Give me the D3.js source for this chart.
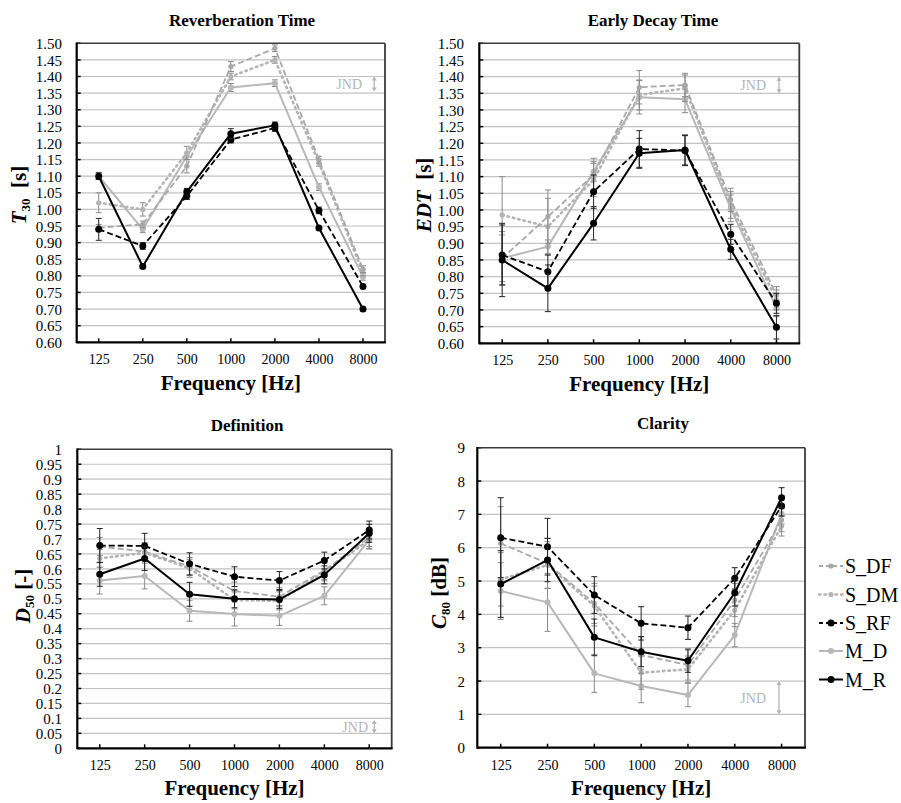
<!DOCTYPE html>
<html><head><meta charset="utf-8">
<script src="https://cdn.jsdelivr.net/npm/d3@7/dist/d3.min.js"></script>
<style>body{margin:0;background:#fff}svg{display:block}svg text{font-family:'Liberation Serif','Tinos','DejaVu Serif','Noto Serif',serif !important}</style>
</head><body><svg id="c" width="901" height="803"></svg>
<script>
// ---------- DATA ----------
const FREQ = ["125","250","500","1000","2000","4000","8000"];
const SERIES = ["S_DF","S_DM","S_RF","M_D","M_R"];

const T30_TICKS = ["0.60","0.65","0.70","0.75","0.80","0.85","0.90","0.95","1.00","1.05","1.10","1.15","1.20","1.25","1.30","1.35","1.40","1.45","1.50"];
const T30_S_DF = [0.945,0.955,1.13,1.43,1.485,1.15,0.82];
const T30_S_DM = [1.02,1.00,1.17,1.40,1.45,1.14,0.81];
const T30_S_RF = [0.94,0.89,1.04,1.21,1.245,0.997,0.768];
const T30_M_D  = [1.10,0.94,1.16,1.367,1.38,1.067,0.797];
const T30_M_R  = [1.10,0.828,1.053,1.228,1.253,0.944,0.70];
const T30_S_DF_ERR = [0.01,0.01,0.02,0.015,0.01,0.01,0.01];
const T30_S_DM_ERR = [0.03,0.02,0.02,0.01,0.01,0.01,0.01];
const T30_S_RF_ERR = [0.033,0.01,0.01,0.01,0.01,0.01,0.005];
const T30_M_D_ERR  = [0.01,0.01,0.01,0.012,0.01,0.01,0.01];
const T30_M_R_ERR  = [0.01,0.006,0.01,0.015,0.01,0.005,0.005];

const EDT_TICKS = T30_TICKS;
const EDT_S_DF = [0.855,0.98,1.105,1.368,1.375,1.03,0.745];
const EDT_S_DM = [0.985,0.95,1.09,1.345,1.365,1.015,0.73];
const EDT_S_RF = [0.865,0.815,1.055,1.183,1.178,0.927,0.72];
const EDT_M_D  = [0.855,0.89,1.115,1.338,1.332,1.005,0.705];
const EDT_M_R  = [0.85,0.765,0.96,1.17,1.18,0.882,0.648];
const EDT_S_DF_ERR = [0.08,0.08,0.05,0.05,0.035,0.035,0.025];
const EDT_S_DM_ERR = [0.115,0.085,0.05,0.045,0.04,0.04,0.03];
const EDT_S_RF_ERR = [0.09,0.05,0.05,0.055,0.045,0.03,0.03];
const EDT_M_D_ERR  = [0.07,0.02,0.03,0.05,0.04,0.04,0.025];
const EDT_M_R_ERR  = [0.11,0.07,0.05,0.045,0.045,0.03,0.035];

const D50_TICKS = ["0","0.05","0.1","0.15","0.2","0.25","0.3","0.35","0.4","0.45","0.5","0.55","0.6","0.65","0.7","0.75","0.8","0.85","0.9","0.95","1"];
const D50_S_DF = [0.675,0.658,0.608,0.526,0.507,0.595,0.705];
const D50_S_DM = [0.635,0.654,0.602,0.496,0.493,0.59,0.697];
const D50_S_RF = [0.678,0.677,0.617,0.574,0.561,0.628,0.73];
const D50_M_D  = [0.561,0.576,0.46,0.449,0.443,0.51,0.697];
const D50_M_R  = [0.582,0.635,0.515,0.50,0.498,0.58,0.719];
const D50_S_DF_ERR = [0.03,0.03,0.03,0.03,0.03,0.03,0.03];
const D50_S_DM_ERR = [0.03,0.03,0.03,0.03,0.03,0.03,0.03];
const D50_S_RF_ERR = [0.057,0.042,0.037,0.033,0.03,0.028,0.03];
const D50_M_D_ERR  = [0.045,0.043,0.035,0.04,0.032,0.03,0.03];
const D50_M_R_ERR  = [0.04,0.04,0.04,0.03,0.03,0.03,0.03];

const C80_TICKS = ["0","1","2","3","4","5","6","7","8","9"];
const C80_S_DF = [6.13,5.53,4.33,2.78,2.48,4.43,6.83];
const C80_S_DM = [5.05,5.48,4.25,2.25,2.35,4.13,6.65];
const C80_S_RF = [6.30,6.03,4.58,3.73,3.60,5.08,7.25];
const C80_M_D  = [4.70,4.36,2.23,1.85,1.58,3.38,7.01];
const C80_M_R  = [4.91,5.63,3.31,2.88,2.61,4.65,7.50];
const C80_S_DF_ERR = [1.1,0.75,0.6,0.55,0.45,0.5,0.35];
const C80_S_DM_ERR = [0.8,0.7,0.6,0.5,0.4,0.5,0.3];
const C80_S_RF_ERR = [1.2,0.85,0.55,0.5,0.35,0.32,0.3];
const C80_M_D_ERR  = [0.85,0.87,0.57,0.5,0.35,0.35,0.3];
const C80_M_R_ERR  = [1.0,0.65,0.55,0.45,0.35,0.4,0.3];

const JND_T30 = [1.355,1.40];
const JND_EDT = [1.35,1.40];
const JND_D50 = [0.05,0.095];
const JND_C80 = [1,2];

// ---------- STYLES ----------
const FONT = "'Liberation Serif','Tinos','DejaVu Serif','Noto Serif',serif";
const STYLE = {
  S_DF:{c:"#a8a8a8",dash:"6,3",w:1.8,r:2.6,cap:"butt",eb:"#8a8a8a"},
  S_DM:{c:"#b4b4b4",dash:"1.5,4",w:2.6,r:2.6,cap:"round",eb:"#8a8a8a"},
  S_RF:{c:"#000",dash:"6,3",w:1.8,r:3.5,cap:"butt",eb:"#222"},
  M_D:{c:"#b8b8b8",dash:null,w:2,r:3,cap:"butt",eb:"#8a8a8a"},
  M_R:{c:"#000",dash:null,w:2,r:3.5,cap:"butt",eb:"#222"}
};
const DRAW_ORDER = ["M_D","S_DM","S_DF","S_RF","M_R"];

const PANELS = [
  {L:76.7,R:385,T:43.3,B:342.3,ticks:T30_TICKS,title:"Reverberation Time",tx:242,ty:26,
   ylab:[["T","i"],["30","s"],["  [s]",""]],ylx:26,yly:195,tickR:62,xlab:390,
   data:{S_DF:[T30_S_DF,T30_S_DF_ERR],S_DM:[T30_S_DM,T30_S_DM_ERR],S_RF:[T30_S_RF,T30_S_RF_ERR],M_D:[T30_M_D,T30_M_D_ERR],M_R:[T30_M_R,T30_M_R_ERR]},
   jnd:JND_T30,jx:374.3,jtx:362},
  {L:479.3,R:799.3,T:43.3,B:343.3,ticks:EDT_TICKS,title:"Early Decay Time",tx:653,ty:26,
   ylab:[["EDT","i"],["  [s]",""]],ylx:431,yly:195,tickR:464,xlab:391,
   data:{S_DF:[EDT_S_DF,EDT_S_DF_ERR],S_DM:[EDT_S_DM,EDT_S_DM_ERR],S_RF:[EDT_S_RF,EDT_S_RF_ERR],M_D:[EDT_M_D,EDT_M_D_ERR],M_R:[EDT_M_R,EDT_M_R_ERR]},
   jnd:JND_EDT,jx:779,jtx:766},
  {L:77.3,R:391.7,T:449.3,B:748.3,ticks:D50_TICKS,title:"Definition",tx:247,ty:431,
   ylab:[["D","i"],["50","s"],[" [-]",""]],ylx:30,yly:596,tickR:62,xlab:795,
   data:{S_DF:[D50_S_DF,D50_S_DF_ERR],S_DM:[D50_S_DM,D50_S_DM_ERR],S_RF:[D50_S_RF,D50_S_RF_ERR],M_D:[D50_M_D,D50_M_D_ERR],M_R:[D50_M_R,D50_M_R_ERR]},
   jnd:JND_D50,jx:374.3,jtx:368},
  {L:477.3,R:805,T:447.7,B:747.7,ticks:C80_TICKS,title:"Clarity",tx:663,ty:429,
   ylab:[["C","i"],["80","s"],[" [dB]",""]],ylx:446,yly:593,tickR:465,xlab:795,
   data:{S_DF:[C80_S_DF,C80_S_DF_ERR],S_DM:[C80_S_DM,C80_S_DM_ERR],S_RF:[C80_S_RF,C80_S_RF_ERR],M_D:[C80_M_D,C80_M_D_ERR],M_R:[C80_M_R,C80_M_R_ERR]},
   jnd:JND_C80,jx:779,jtx:766}
];

const svg = d3.select("#c").attr("font-family",FONT).style("font-family",FONT);

PANELS.forEach(p=>{
  const tv = p.ticks.map(Number);
  const x = d3.scalePoint().domain(FREQ).range([p.L,p.R]).padding(0.5);
  const y = d3.scaleLinear().domain([d3.min(tv),d3.max(tv)]).range([p.B,p.T]);
  const g = svg.append("g");

  g.selectAll(".grid").data(tv.slice(1,-1)).join("line")
    .attr("x1",p.L).attr("x2",p.R).attr("y1",d=>y(d)).attr("y2",d=>y(d))
    .attr("stroke","#c2c2c2").attr("stroke-width",1.2);

  const ya = d3.axisLeft(y).tickValues(tv).tickFormat((d,i)=>p.ticks[i]).tickSize(0).tickPadding(0);
  const yg = g.append("g").attr("transform",`translate(${p.tickR},0)`).call(ya);
  yg.attr("font-family",FONT);
  yg.select(".domain").remove();
  yg.selectAll("text").attr("font-size",15).attr("fill","#000").attr("dy","0.34em");
  g.selectAll(".yt").data(tv).join("line").attr("x1",p.L).attr("x2",p.L+4)
    .attr("y1",d=>y(d)).attr("y2",d=>y(d)).attr("stroke","#000").attr("stroke-width",1.5);

  const xa = d3.axisBottom(x).tickSize(0).tickPadding(0);
  const xg = g.append("g").attr("transform",`translate(0,${p.B+22})`).call(xa);
  xg.attr("font-family",FONT);
  xg.select(".domain").remove();
  xg.selectAll("text").attr("font-size",14).attr("fill","#000").attr("dy","0");
  g.selectAll(".xt").data(FREQ).join("line").attr("x1",d=>x(d)).attr("x2",d=>x(d))
    .attr("y1",p.B).attr("y2",p.B-4).attr("stroke","#000").attr("stroke-width",1.5);

  g.append("line").attr("x1",p.L).attr("x2",p.R).attr("y1",p.T).attr("y2",p.T).attr("stroke","#3a3a3a").attr("stroke-width",1.5);
  g.append("line").attr("x1",p.R).attr("x2",p.R).attr("y1",p.T).attr("y2",p.B).attr("stroke","#3a3a3a").attr("stroke-width",1.8);
  g.append("line").attr("x1",p.L).attr("x2",p.L).attr("y1",p.T-0.7).attr("y2",p.B+1).attr("stroke","#000").attr("stroke-width",2.2);
  g.append("line").attr("x1",p.L).attr("x2",p.R+0.9).attr("y1",p.B).attr("y2",p.B).attr("stroke","#000").attr("stroke-width",2.2);

  DRAW_ORDER.forEach(s=>{
    const st = STYLE[s];
    const vals = p.data[s][0], errs = p.data[s][1];
    const pts = FREQ.map((f,i)=>({f,v:vals[i],e:errs[i]}));
    const sg = g.append("g");
    pts.forEach(d=>{
      const xx = x(d.f);
      sg.append("line").attr("x1",xx).attr("x2",xx).attr("y1",y(d.v-d.e)).attr("y2",y(d.v+d.e))
        .attr("stroke",st.eb).attr("stroke-width",1);
      [d.v-d.e,d.v+d.e].forEach(v=>sg.append("line").attr("x1",xx-3).attr("x2",xx+3)
        .attr("y1",y(v)).attr("y2",y(v)).attr("stroke",st.eb).attr("stroke-width",1));
    });
    const line = d3.line().x(d=>x(d.f)).y(d=>y(d.v));
    sg.append("path").datum(pts).attr("d",line).attr("fill","none")
      .attr("stroke",st.c).attr("stroke-width",st.w).attr("stroke-dasharray",st.dash)
      .attr("stroke-linecap",st.cap).attr("stroke-linejoin","round");
    sg.selectAll("circle").data(pts).join("circle").attr("cx",d=>x(d.f)).attr("cy",d=>y(d.v))
      .attr("r",st.r).attr("fill",st.c);
  });

  const jy1 = y(p.jnd[1]), jy0 = y(p.jnd[0]);
  const jc = "#b5b5b5";
  g.append("line").attr("x1",p.jx).attr("x2",p.jx).attr("y1",jy1+1).attr("y2",jy0-1).attr("stroke",jc).attr("stroke-width",1.3);
  g.append("path").attr("d",`M${p.jx-2.5},${jy1+4}L${p.jx},${jy1}L${p.jx+2.5},${jy1+4}Z`).attr("fill",jc);
  g.append("path").attr("d",`M${p.jx-2.5},${jy0-4}L${p.jx},${jy0}L${p.jx+2.5},${jy0-4}Z`).attr("fill",jc);
  g.append("text").attr("x",p.jtx).attr("y",(jy0+jy1)/2+5).attr("text-anchor","end")
    .attr("font-size",14).attr("fill","#b5b5b5").text("JND");

  svg.append("text").attr("x",p.tx).attr("y",p.ty).attr("text-anchor","middle")
    .attr("font-size",17).attr("font-weight","bold").text(p.title);
  svg.append("text").attr("x",(p.L+p.R)/2).attr("y",p.xlab).attr("text-anchor","middle")
    .attr("font-size",21).attr("font-weight","bold").text("Frequency [Hz]");
  const yl = svg.append("text").attr("transform",`translate(${p.ylx},${p.yly}) rotate(-90)`)
    .attr("text-anchor","middle").attr("font-size",21).attr("font-weight","bold")
    .style("white-space","pre");
  p.ylab.forEach(([t,k])=>{
    const ts = yl.append("tspan").text(t);
    if(k==="i") ts.attr("font-style","italic");
    if(k==="s") ts.attr("font-size",13).attr("dy",4);
    if(k==="" && p.ylab.some(q=>q[1]==="s")) ts.attr("dy",-4);
  });
});

const LEG_Y = [566,594.5,623,651,679.5];
SERIES.forEach((s,i)=>{
  const st = STYLE[s];
  const lg = svg.append("g");
  lg.append("line").attr("x1",819).attr("x2",843).attr("y1",LEG_Y[i]).attr("y2",LEG_Y[i])
    .attr("stroke",st.c).attr("stroke-width",st.w).attr("stroke-dasharray",st.dash?(s==="S_DM"?"1.5,4":"4,3"):null)
    .attr("stroke-linecap",st.cap);
  lg.append("circle").attr("cx",831).attr("cy",LEG_Y[i]).attr("r",st.r).attr("fill",st.c);
  lg.append("text").attr("x",845).attr("y",LEG_Y[i]+7).attr("font-size",20).attr("fill","#000").text(s);
});
</script></body></html>
